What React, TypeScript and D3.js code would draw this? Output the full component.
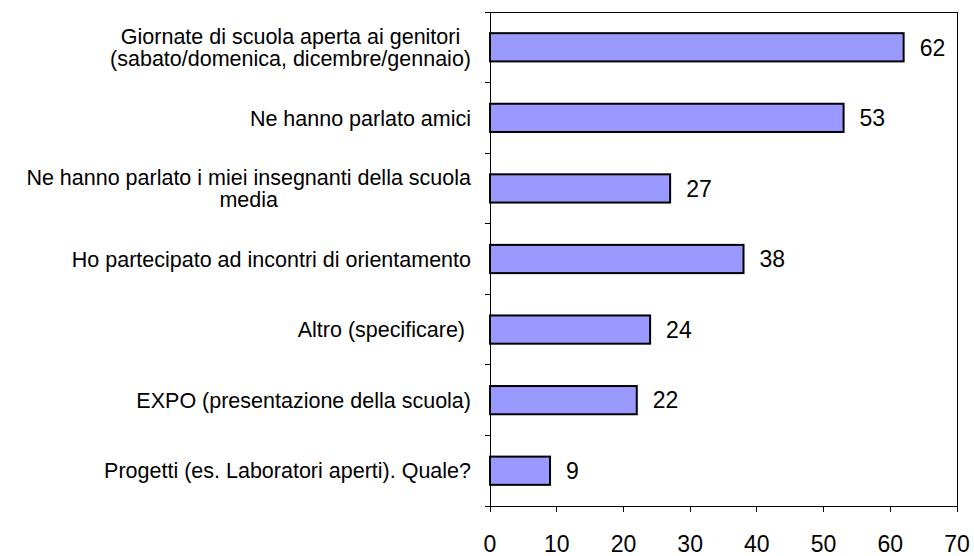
import React from "react";
import * as d3 from "d3";

const categories = [
  "Giornate di scuola aperta ai genitori\n(sabato/domenica, dicembre/gennaio)",
  "Ne hanno parlato amici",
  "Ne hanno parlato i miei insegnanti della scuola\nmedia",
  "Ho partecipato ad incontri di orientamento",
  "Altro (specificare) ",
  "EXPO (presentazione della scuola)",
  "Progetti (es. Laboratori aperti). Quale?",
];
const values = [62, 53, 27, 38, 24, 22, 9];
const xTicks = [0, 10, 20, 30, 40, 50, 60, 70];

const W = 974;
const H = 556;
const FONT = "Liberation Sans, Arial, sans-serif";
const FS = 21.5;
const FS_NUM = 23;

let ctx: CanvasRenderingContext2D | null = null;
function measure(t: string) {
  if (!ctx) ctx = document.createElement("canvas").getContext("2d");
  if (!ctx) return t.length * FS * 0.5;
  ctx.font = `${FS}px ${FONT}`;
  return ctx.measureText(t).width;
}

export default function App() {
  const x = d3.scaleLinear().domain([0, 70]).range([490, 957]);
  const y = d3
    .scaleBand<string>()
    .domain(categories)
    .range([12, 506])
    .paddingInner(0.6)
    .paddingOuter(0.3);
  const step = y.step();
  const boundaries = d3.range(categories.length + 1).map((i) => 12 + i * step);
  const labelRight = 471;
  const lineH = 22;

  return (
    <svg
      width={W}
      height={H}
      style={{ position: "absolute", left: 0, top: 0, display: "block", background: "#fff" }}
      fontFamily={FONT}
      fontSize={FS}
    >
      <rect x={0} y={0} width={W} height={H} fill="#fff" />
      {/* plot border */}
      <rect
        x={x(0)}
        y={12.5}
        width={x(70) - x(0)}
        height={506 - 12.5}
        fill="none"
        stroke="#000"
        strokeWidth={1}
        shapeRendering="crispEdges"
      />
      {/* y axis ticks */}
      {boundaries.map((b, i) => (
        <line key={"yt" + i} x1={x(0) - 5} x2={x(0)} y1={b} y2={b} stroke="#000" shapeRendering="crispEdges" />
      ))}
      {/* x axis ticks */}
      {xTicks.map((t) => (
        <g key={"xt" + t}>
          <line x1={x(t)} x2={x(t)} y1={506} y2={512} stroke="#000" shapeRendering="crispEdges" />
          <text x={x(t)} y={552} textAnchor="middle" fill="#000" fontSize={FS_NUM}>
            {t}
          </text>
        </g>
      ))}
      {/* bars */}
      {categories.map((c, i) => (
        <g key={"b" + i}>
          <rect
            x={x(0)}
            y={y(c)!}
            width={x(values[i]) - x(0)}
            height={y.bandwidth()}
            fill="#9999FF"
            stroke="#000"
            strokeWidth={2}
          />
          <text
            x={x(values[i]) + 16}
            y={y(c)! + y.bandwidth() / 2 + FS_NUM * 0.36}
            fill="#000"
            fontSize={FS_NUM}
          >
            {values[i]}
          </text>
        </g>
      ))}
      {/* category labels */}
      {categories.map((c, i) => {
        const lines = c.split("\n");
        const maxW = Math.max(...lines.map(measure));
        const cx = labelRight - maxW / 2;
        const cy = y(c)! + y.bandwidth() / 2;
        const y0 = cy - ((lines.length - 1) * lineH) / 2 + FS * 0.36;
        return (
          <text key={"l" + i} textAnchor="middle" fill="#000" style={{ whiteSpace: "pre" }}>
            {lines.map((ln, j) => (
              <tspan key={j} x={cx} y={y0 + j * lineH}>
                {ln}
              </tspan>
            ))}
          </text>
        );
      })}
    </svg>
  );
}
